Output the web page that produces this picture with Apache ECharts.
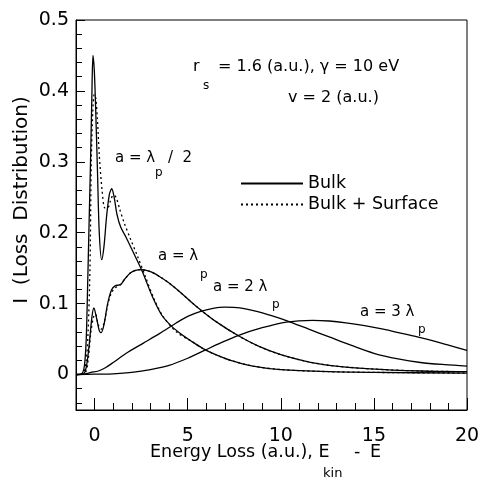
<!DOCTYPE html>
<html><head><meta charset="utf-8">
<script src="https://cdn.jsdelivr.net/npm/echarts@6/dist/echarts.min.js"></script>
<style>html,body{margin:0;padding:0;background:#fff}#c{width:486px;height:480px}</style>
</head><body><div id="c"></div>
<script>
const FONT = "'DejaVu Sans', 'Liberation Sans', Arial, sans-serif";

// ---- data (x = energy loss a.u., y = loss distribution) ----
const bulkHalf = [[-1,0],[-0.7,0.001],[-0.55,0.012],[-0.45,0.05],[-0.38,0.12],[-0.3,0.21],[-0.22,0.30],[-0.15,0.39],[-0.09,0.45],[-0.02,0.43],[0.05,0.38],[0.15,0.29],[0.25,0.20],[0.38,0.162],[0.5,0.18],[0.65,0.225],[0.8,0.255],[0.92,0.262],[1.05,0.25],[1.2,0.226],[1.4,0.208],[1.7,0.193],[2.1,0.171],[2.55,0.146],[3.1,0.110],[3.6,0.084],[4.1,0.069],[4.6,0.058],[5.2,0.047],[5.8,0.037],[6.5,0.028],[7.3,0.020],[8.5,0.012],[10,0.007],[12.6,0.004],[15,0.003],[20,0.002]];
const surfHalf = [[-1,0],[-0.6,0.002],[-0.45,0.02],[-0.35,0.06],[-0.25,0.15],[-0.18,0.30],[-0.1,0.37],[-0.02,0.395],[0.06,0.39],[0.15,0.36],[0.25,0.31],[0.4,0.26],[0.55,0.235],[0.7,0.235],[0.85,0.245],[1.0,0.253],[1.15,0.25],[1.35,0.233],[1.6,0.213],[1.9,0.193],[2.3,0.167],[2.7,0.14],[3.2,0.106],[3.7,0.081],[4.4,0.060],[5.2,0.047],[5.8,0.037],[6.5,0.028],[7.3,0.020],[8.5,0.012],[10,0.007],[12.6,0.004],[15,0.003],[20,0.002]];
const bulkOne = [[-1,0],[-0.6,0.001],[-0.45,0.01],[-0.3,0.04],[-0.15,0.08],[-0.04,0.094],[0.1,0.08],[0.25,0.062],[0.35,0.059],[0.5,0.07],[0.7,0.10],[0.9,0.119],[1.1,0.125],[1.4,0.127],[1.6,0.134],[1.9,0.143],[2.2,0.147],[2.5,0.148],[3.0,0.145],[3.5,0.138],[4.0,0.129],[4.6,0.116],[5.2,0.102],[5.7,0.091],[6.5,0.075],[7.7,0.055],[8.8,0.040],[10,0.028],[11.3,0.019],[12.6,0.013],[14.8,0.008],[17.5,0.005],[20,0.004]];
const surfOne = [[-1,0],[-0.5,0.003],[-0.35,0.02],[-0.2,0.06],[-0.05,0.082],[0.05,0.085],[0.2,0.07],[0.35,0.064],[0.5,0.072],[0.7,0.098],[0.9,0.115],[1.1,0.122],[1.4,0.127],[1.6,0.134],[1.9,0.143],[2.2,0.147],[2.5,0.148],[3.0,0.145],[3.5,0.138],[4.0,0.129],[4.6,0.116],[5.2,0.102],[5.7,0.091],[6.5,0.075],[7.7,0.055],[8.8,0.040],[10,0.028],[11.3,0.019],[12.6,0.013],[14.8,0.008],[17.5,0.005],[20,0.004]];
const bulkTwo = [[-1,0],[-0.5,0.001],[-0.2,0.003],[0.2,0.005],[0.6,0.010],[1.0,0.017],[1.7,0.030],[2.6,0.044],[3.5,0.058],[4.4,0.073],[5.0,0.082],[5.7,0.089],[6.3,0.093],[7.0,0.095],[7.8,0.094],[8.7,0.089],[9.5,0.083],[10.3,0.076],[11.5,0.064],[12.6,0.053],[13.8,0.041],[15,0.030],[16.3,0.022],[17.5,0.017],[18.8,0.014],[20,0.012]];
const bulkThree = [[-1,0],[0,0.0005],[1,0.001],[2,0.003],[3,0.007],[4,0.013],[5,0.023],[5.9,0.034],[6.8,0.045],[7.7,0.055],[9,0.066],[10.3,0.074],[11.7,0.0765],[12.6,0.0755],[13.5,0.073],[14.5,0.069],[15.5,0.064],[16.5,0.058],[17.5,0.052],[18.8,0.043],[20,0.034]];

const xMajorTicks = [0, 5, 10, 15, 20];
const xTickLabels = ['0', '5', '10', '15', '20'];
const xMinorTicks = [1,2,3,4,6,7,8,9,11,12,13,14,16,17,18,19];
const yMajorTicks = [0, 0.1, 0.2, 0.3, 0.4, 0.5];
const yTickLabels = ['0', '0.1', '0.2', '0.3', '0.4', '0.5'];
const yMinorTicks = [-0.04,-0.02,0.02,0.04,0.06,0.08,0.12,0.14,0.16,0.18,0.22,0.24,0.26,0.28,0.32,0.34,0.36,0.38,0.42,0.44,0.46,0.48];

const black = '#000';
function lineSeries(name, data, type) {
  return {
    type: 'line', name: name, data: data, xAxisIndex: 0, yAxisIndex: 0,
    symbol: 'none', showSymbol: false, smooth: 0.3, animation: false,
    lineStyle: { color: black, width: 1.3, type: type }, itemStyle: { color: black },
    z: type === 'solid' ? 3 : 2
  };
}
function txt(x, y, s, size, extra) {
  const el = { type: 'text', x: x, y: y, style: { text: s, font: size + 'px ' + FONT, fill: black, textVerticalAlign: 'middle' } };
  return Object.assign(el, extra || {});
}

const chart = echarts.init(document.getElementById('c'), null, { renderer: 'canvas' });
chart.setOption({
  animation: false,
  backgroundColor: '#fff',
  grid: { left: 76, top: 20, right: 19, bottom: 70, show: true, borderColor: black, borderWidth: 1, containLabel: false, outerBoundsMode: 'none' },
  xAxis: [
    { type: 'value', min: -1, max: 20, position: 'bottom',
      axisLine: { onZero: false, lineStyle: { color: black, width: 1 } },
      axisTick: { inside: true, length: 12, customValues: xMajorTicks, lineStyle: { color: black } },
      axisLabel: { customValues: xMajorTicks, formatter: v => xTickLabels[xMajorTicks.indexOf(v)], color: black, fontSize: 19, fontFamily: FONT, margin: 17 },
      splitLine: { show: false } },
    { type: 'value', min: -1, max: 20, position: 'bottom',
      axisLine: { show: false, onZero: false },
      axisTick: { inside: true, length: 7, customValues: xMinorTicks, lineStyle: { color: black } },
      axisLabel: { show: false }, splitLine: { show: false } }
  ],
  yAxis: [
    { type: 'value', min: -0.05, max: 0.5, position: 'left',
      axisLine: { show: true, onZero: false, lineStyle: { color: black, width: 1 } },
      axisTick: { show: true, inside: true, length: 9, customValues: yMajorTicks, lineStyle: { color: black } },
      axisLabel: { customValues: yMajorTicks, formatter: v => yTickLabels[yMajorTicks.findIndex(t => Math.abs(t - v) < 1e-9)], color: black, fontSize: 19, fontFamily: FONT, margin: 7, padding: [0, 0, 8, 0] },
      splitLine: { show: false } },
    { type: 'value', min: -0.05, max: 0.5, position: 'left',
      axisLine: { show: false, onZero: false },
      axisTick: { show: true, inside: true, length: 6, customValues: yMinorTicks, lineStyle: { color: black } },
      axisLabel: { show: false }, splitLine: { show: false } }
  ],
  legend: {
    data: ['Bulk', 'Bulk + Surface'], orient: 'vertical', left: 240, top: 174, padding: 0,
    itemWidth: 62, itemHeight: 14, itemGap: 2, selectedMode: false,
    itemStyle: { opacity: 0 },
    textStyle: { color: black, fontSize: 17.5, fontFamily: FONT, lineHeight: 19 }
  },
  series: [
    lineSeries('Bulk', bulkHalf, 'solid'),
    lineSeries('Bulk', bulkOne, 'solid'),
    lineSeries('Bulk', bulkTwo, 'solid'),
    lineSeries('Bulk', bulkThree, 'solid'),
    lineSeries('Bulk + Surface', surfHalf, [2, 3]),
    lineSeries('Bulk + Surface', surfOne, [2, 3])
  ],
  graphic: [
    txt(22, 200, 'I  (Loss  Distribution)', 20, { rotation: Math.PI / 2, style: { text: 'I  (Loss  Distribution)', font: '20px ' + FONT, fill: black, textAlign: 'center', textVerticalAlign: 'middle' } }),
    txt(193, 67, 'r', 16), txt(203, 86, 's', 12),
    txt(218, 67, '= 1.6 (a.u.), \u03b3 = 10 eV', 16),
    txt(288, 98, 'v = 2 (a.u.)', 16),
    txt(115, 158, 'a = \u03bb', 15), txt(155, 173, 'p', 12), txt(168, 158, '/  2', 15),
    txt(158, 256, 'a = \u03bb', 15), txt(200, 275, 'p', 12),
    txt(213, 287, 'a = 2 \u03bb', 15), txt(272, 305, 'p', 12),
    txt(360, 312, 'a = 3 \u03bb', 15), txt(418, 330, 'p', 12),
    txt(150, 452, 'Energy Loss (a.u.), E', 17.5), txt(323, 474, 'kin', 13),
    txt(354, 452, '-', 17.5), txt(370, 452, 'E', 17.5)
  ]
});
</script></body></html>
